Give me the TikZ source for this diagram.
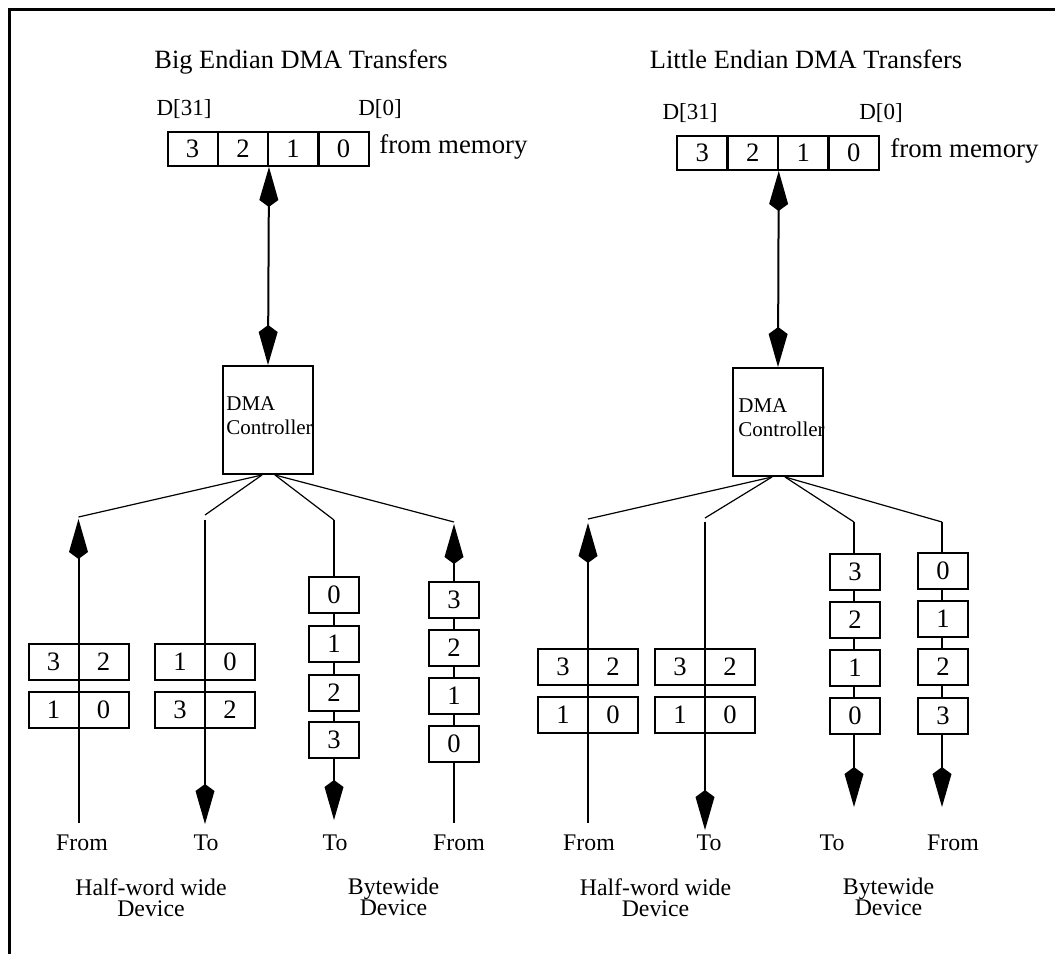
\documentclass[tikz,border=0pt]{standalone}
\usepackage{amsmath}
\usepackage{fontspec}
\setmainfont{Liberation Serif}
\usetikzlibrary{arrows.meta}

\begin{document}
\begin{tikzpicture}[x=0.5pt, y=-0.5pt, >={Kite[length=20pt, width=9.5pt, inset=3.5pt]},
        cell/.style={draw, line width=1pt, fill=white, minimum width=25pt, minimum height=18pt, inner sep=0pt, font=\fontsize{13.3}{14}\selectfont},
        memcell/.style={cell, minimum height=17pt},
        ctrl/.style={draw, line width=1pt, minimum width=45pt, minimum height=54pt, inner sep=0pt},
        bus/.style={line width=1pt},
        fan/.style={line width=0.6pt},
        lbl/.style={inner sep=0pt, font=\fontsize{11.9}{10.5}\selectfont, align=center}]
        \useasboundingbox (0,0) rectangle (1055,954);
        \draw[line width=1.5pt] (1055,9) -- (9,9) -- (9,954);

        % big endian side
        \node[anchor=base, font=\fontsize{13.2}{15}\selectfont] (titleB) at (301,68) {Big Endian DMA Transfers};
        \node[anchor=base, font=\fontsize{11.5}{13}\selectfont] (bhi) at (184,115) {D[31]};
        \node[anchor=base, font=\fontsize{11.5}{13}\selectfont] (blo) at (380,115) {D[0]};
        \node[memcell] (bm3) at (192.5,149) {3};
        \node[memcell] (bm2) at (243,149) {2};
        \node[memcell] (bm1) at (293,149) {1};
        \node[memcell] (bm0) at (343.5,149) {0};
        \node[anchor=base west, inner sep=0pt, font=\fontsize{13.4}{15}\selectfont] (bmem) at (379,153) {from memory};
        \node[ctrl] (dmaB) at (268,420) {};
        \node[anchor=north west, align=left, inner sep=0pt, font=\fontsize{10.5}{12}\selectfont] (dmaBtext) at (226,396) {DMA\\Controller};
        \draw[bus, <->] (bm2.south east) -- (dmaB.north);

        \coordinate (bfanA) at (78.5,517);
        \coordinate (bfanB) at (205,515);
        \coordinate (bfanC) at (334,520);
        \coordinate (bfanD) at (454,522);
        \draw[fan] ([xshift=-3pt]dmaB.south) -- (bfanA);
        \draw[fan] ([xshift=-3pt]dmaB.south) -- (bfanB);
        \draw[fan] ([xshift=3.5pt]dmaB.south) -- (bfanC);
        \draw[fan] ([xshift=3.5pt]dmaB.south) -- (bfanD);

        \coordinate (btopA) at (78.5,519);
        \coordinate (bbotA) at (78.5,823);
        \coordinate (btopB) at (205,520);
        \coordinate (bbotB) at (205,824);
        \coordinate (bbotC) at (334,820);
        \coordinate (btopD) at (454,524);
        \coordinate (bbotD) at (454,823);
        \draw[bus, <-] (btopA) -- (bbotA);
        \draw[bus, ->] (btopB) -- (bbotB);
        \draw[bus, ->] (bfanC) -- (bbotC);
        \draw[bus, <-] (btopD) -- (bbotD);

        \node[cell] (bfh3) at (53.5,661.5) {3};
        \node[cell] (bfh2) at (103.5,661.5) {2};
        \node[cell] (bfh1) at (53.5,710) {1};
        \node[cell] (bfh0) at (103.5,710) {0};
        \node[cell] (bth1) at (180,661.5) {1};
        \node[cell] (bth0) at (230,661.5) {0};
        \node[cell] (bth3) at (180,710) {3};
        \node[cell] (bth2) at (230,710) {2};
        \node[cell] (btb0) at (334,595) {0};
        \node[cell] (btb1) at (334,643.5) {1};
        \node[cell] (btb2) at (334,692.5) {2};
        \node[cell] (btb3) at (334,740) {3};
        \node[cell] (bfb3) at (454,599.5) {3};
        \node[cell] (bfb2) at (454,648) {2};
        \node[cell] (bfb1) at (454,696) {1};
        \node[cell] (bfb0) at (454,744) {0};

        \node[lbl, anchor=base] (bfromA) at (82,850) {From};
        \node[lbl, anchor=base] (btoB) at (206,850) {To};
        \node[lbl, anchor=base] (btoC) at (335,850) {To};
        \node[lbl, anchor=base] (bfromD) at (459,850) {From};
        \node[lbl, anchor=north] (bhalf) at (151,878) {Half-word wide\\Device};
        \node[lbl, anchor=north] (bbyte) at (393.5,878) {Bytewide\\Device};

        % little endian side
        \node[anchor=base, font=\fontsize{13.2}{15}\selectfont] (titleL) at (806,68) {Little Endian DMA Transfers};
        \node[anchor=base, font=\fontsize{11.5}{13}\selectfont] (lhi) at (690,119) {D[31]};
        \node[anchor=base, font=\fontsize{11.5}{13}\selectfont] (llo) at (881,119) {D[0]};
        \node[memcell] (lm3) at (702.25,153) {3};
        \node[memcell] (lm2) at (752.75,153) {2};
        \node[memcell] (lm1) at (803.25,153) {1};
        \node[memcell] (lm0) at (853.75,153) {0};
        \node[anchor=base west, inner sep=0pt, font=\fontsize{13.4}{15}\selectfont] (lmem) at (890,157) {from memory};
        \node[ctrl] (dmaL) at (778,422) {};
        \node[anchor=north west, align=left, inner sep=0pt, font=\fontsize{10.5}{12}\selectfont] (dmaLtext) at (738,398) {DMA\\Controller};
        \draw[bus, <->] (lm2.south east) -- (dmaL.north);

        \coordinate (lfanE) at (588,519);
        \coordinate (lfanF) at (705,518);
        \coordinate (lfanG) at (854,522);
        \coordinate (lfanH) at (942,522);
        \draw[fan] ([xshift=-3pt]dmaL.south) -- (lfanE);
        \draw[fan] ([xshift=-3pt]dmaL.south) -- (lfanF);
        \draw[fan] ([xshift=3.5pt]dmaL.south) -- (lfanG);
        \draw[fan] ([xshift=3.5pt]dmaL.south) -- (lfanH);

        \coordinate (ltopE) at (588,523);
        \coordinate (lbotE) at (588,823);
        \coordinate (ltopF) at (705,522);
        \coordinate (lbotF) at (705,830);
        \coordinate (lbotG) at (854,807);
        \coordinate (lbotH) at (942,807);
        \draw[bus, <-] (ltopE) -- (lbotE);
        \draw[bus, ->] (ltopF) -- (lbotF);
        \draw[bus, ->] (lfanG) -- (lbotG);
        \draw[bus, ->] (lfanH) -- (lbotH);

        \node[cell] (lfh3) at (563,666.5) {3};
        \node[cell] (lfh2) at (613,666.5) {2};
        \node[cell] (lfh1) at (563,714.5) {1};
        \node[cell] (lfh0) at (613,714.5) {0};
        \node[cell] (lth3) at (680,666.5) {3};
        \node[cell] (lth2) at (730,666.5) {2};
        \node[cell] (lth1) at (680,714.5) {1};
        \node[cell] (lth0) at (730,714.5) {0};
        \node[cell] (ltb3) at (855,571.5) {3};
        \node[cell] (ltb2) at (855,619.5) {2};
        \node[cell] (ltb1) at (855,667.5) {1};
        \node[cell] (ltb0) at (855,716) {0};
        \node[cell] (lfb0) at (943,571) {0};
        \node[cell] (lfb1) at (943,619) {1};
        \node[cell] (lfb2) at (943,667) {2};
        \node[cell] (lfb3) at (943,715.5) {3};

        \node[lbl, anchor=base] (lfromE) at (589,850) {From};
        \node[lbl, anchor=base] (ltoF) at (709,850) {To};
        \node[lbl, anchor=base] (ltoG) at (832,850) {To};
        \node[lbl, anchor=base] (lfromH) at (953,850) {From};
        \node[lbl, anchor=north] (lhalf) at (655.5,878) {Half-word wide\\Device};
        \node[lbl, anchor=north] (lbyte) at (888.5,878) {Bytewide\\Device};
\end{tikzpicture}
\end{document}
